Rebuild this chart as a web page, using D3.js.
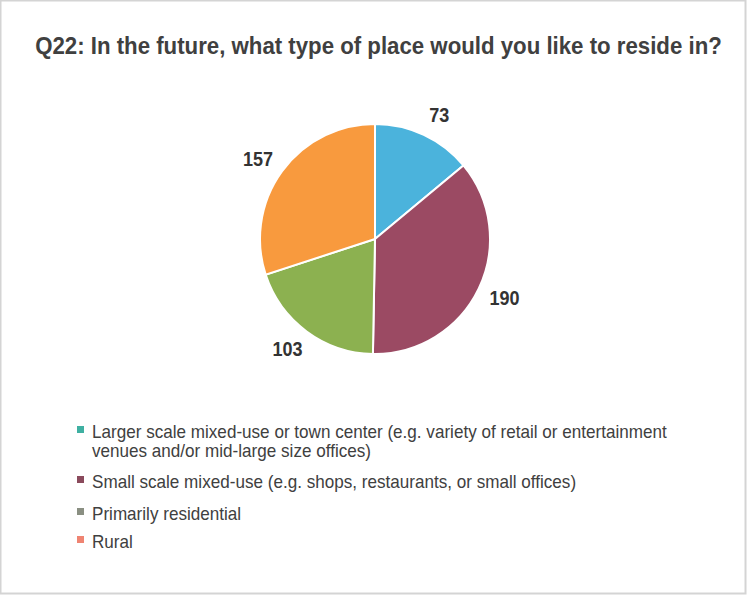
<!DOCTYPE html>
<html><head><meta charset="utf-8">
<script src="https://cdn.jsdelivr.net/npm/d3@7"></script>
<style>body{margin:0;background:#fff}svg{display:block}</style>
</head><body>
<svg id="c" width="747" height="595"></svg>
<script>
const title = "Q22: In the future, what type of place would you like to reside in?";
const categories = [
  ["Larger scale mixed-use or town center (e.g. variety of retail or entertainment", "venues and/or mid-large size offices)"],
  ["Small scale mixed-use (e.g. shops, restaurants, or small offices)"],
  ["Primarily residential"],
  ["Rural"]
];
const values = [73, 190, 103, 157];
const colors = ["#4bb3dc", "#9b4a63", "#8cb150", "#f89a3e"];
const legendColors = ["#3fb0a2", "#8a4a5c", "#8a8f82", "#ef8472"];

const svg = d3.select("#c");
const font = "'Liberation Sans Narrow','Arial Narrow','Liberation Sans',Arial,sans-serif";
svg.append("rect").attr("x",0.5).attr("y",0.5).attr("width",745).attr("height",593)
  .attr("fill","#fff").attr("stroke","#d4d4d4").attr("stroke-width",2);

const t = svg.append("text").attr("x",378.5).attr("y",54).attr("text-anchor","middle")
  .attr("font-family",font).attr("font-weight","bold").attr("font-size",23).attr("fill","#404040").text(title);
const tw = t.node().getComputedTextLength();
t.attr("transform",`translate(378.5,0) scale(${687/tw},1) translate(-378.5,0)`);

const cx=375, cy=239, r=115;
const pie = d3.pie().sort(null).value(d=>d);
const arcs = pie(values);
const arc = d3.arc().innerRadius(0).outerRadius(r);
const g = svg.append("g").attr("transform",`translate(${cx},${cy})`);
g.selectAll("path").data(arcs).join("path").attr("d",arc)
  .attr("fill",(d,i)=>colors[i]).attr("stroke","#fff").attr("stroke-width",2);
const labelArc = d3.arc().innerRadius(r+22).outerRadius(r+22);
g.selectAll("text").data(arcs).join("text")
  .attr("transform",d=>{const c=labelArc.centroid(d);const m=(d.startAngle+d.endAngle)/2;return `translate(${c[0]+Math.sign(Math.sin(m))*6},${c[1]}) scale(0.9,1)`;})
  .attr("text-anchor","middle").attr("dy","0.36em")
  .attr("font-family",font).attr("font-weight","bold").attr("font-size",20).attr("fill","#333")
  .text(d=>d.data);

const baselines = [438, 488, 520, 548];
const lg = svg.append("g");
let ratio = null;
categories.forEach((lines,i)=>{
  lg.append("rect").attr("x",77).attr("y",baselines[i]-12).attr("width",7).attr("height",7).attr("fill",legendColors[i]);
  lines.forEach((s,j)=>{
    const y = baselines[i]+j*19;
    const tx = lg.append("text").attr("x",92).attr("y",y)
      .attr("font-family",font).attr("font-size",18).attr("fill","#404040").text(s);
    const w = tx.node().getComputedTextLength();
    if (ratio===null) ratio = 575 / w;
    tx.attr("transform",`translate(92,${y}) scale(${ratio},1) translate(-92,${-y})`);
  });
});
</script>
</body></html>
